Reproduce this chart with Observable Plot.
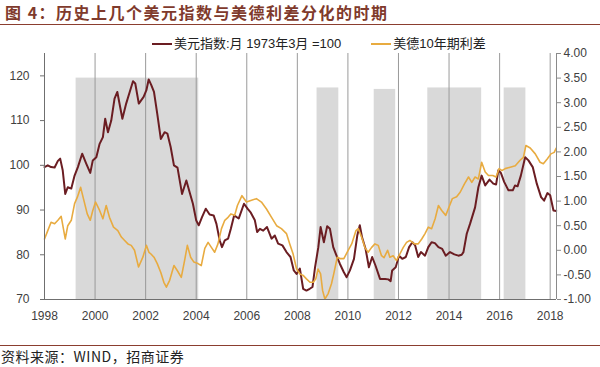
<!DOCTYPE html>
<html><head><meta charset="utf-8">
<script src="https://cdn.jsdelivr.net/npm/d3@7"></script>
<script src="https://cdn.jsdelivr.net/npm/@observablehq/plot@0.6"></script>
<style>
html,body{margin:0;padding:0;background:#fff}
body{width:600px;height:367px;position:relative;overflow:hidden;font-family:"Liberation Sans","Noto Sans CJK SC",sans-serif}
#title{position:absolute;left:0;top:0;width:600px;height:25px;border-bottom:1.5px solid #8b3e2f;box-sizing:border-box;font-family:"Noto Sans CJK SC",sans-serif;font-weight:700;font-size:16px;line-height:24px;color:#7f3a2c;padding-left:5px;letter-spacing:1.5px;white-space:nowrap}
#legend{position:absolute;top:36px;left:152px;font-size:13px;color:#222;white-space:nowrap;line-height:16px;font-family:"Liberation Sans","Noto Sans CJK SC",sans-serif}
#legend .sw{display:inline-block;width:20px;height:2px;vertical-align:middle;margin-right:2px;position:relative;top:-1px}
#legend .item{display:inline-block}
#chart{position:absolute;left:0;top:30px}
#footer{position:absolute;left:0;top:345px;width:600px;border-top:1px solid #8b3e2f;font-family:"Noto Sans CJK SC",sans-serif;font-size:14px;color:#222;padding-top:2px;padding-left:1px;line-height:17px;letter-spacing:0.5px;white-space:nowrap}
</style></head>
<body>
<div id="title">图 4：历史上几个美元指数与美德利差分化的时期</div>
<div id="legend"><span class="item"><span class="sw" style="background:#6b1d22"></span>美元指数:月 1973年3月 =100</span><span class="item" style="margin-left:30px"><span class="sw" style="background:#e8ab40"></span>美德10年期利差</span></div>
<div id="chart"></div>
<div id="footer">资料来源：WIND，招商证券</div>
<script>
// 美元指数 (left axis)
const usdYear = [1998.00,1998.13,1998.26,1998.40,1998.53,1998.62,1998.72,1998.82,1998.92,1999.06,1999.19,1999.32,1999.49,1999.65,1999.81,1999.91,2000.05,2000.18,2000.31,2000.40,2000.51,2000.64,2000.77,2000.88,2001.08,2001.23,2001.37,2001.50,2001.59,2001.73,2001.92,2002.03,2002.12,2002.22,2002.33,2002.46,2002.60,2002.75,2002.86,2002.99,2003.12,2003.26,2003.44,2003.61,2003.74,2003.87,2004.00,2004.10,2004.23,2004.38,2004.53,2004.69,2004.80,2004.93,2005.02,2005.13,2005.26,2005.37,2005.50,2005.68,2005.89,2006.03,2006.16,2006.32,2006.41,2006.52,2006.65,2006.80,2006.98,2007.11,2007.24,2007.41,2007.57,2007.73,2007.86,2007.97,2008.10,2008.23,2008.36,2008.49,2008.60,2008.70,2008.83,2008.92,2009.05,2009.18,2009.29,2009.42,2009.55,2009.68,2009.84,2009.95,2010.08,2010.24,2010.37,2010.47,2010.56,2010.70,2010.83,2010.96,2011.09,2011.27,2011.47,2011.60,2011.69,2011.75,2011.89,2012.02,2012.15,2012.29,2012.42,2012.55,2012.66,2012.78,2012.89,2013.05,2013.18,2013.31,2013.44,2013.58,2013.73,2013.87,2014.04,2014.21,2014.37,2014.50,2014.57,2014.70,2014.83,2015.03,2015.16,2015.29,2015.43,2015.60,2015.75,2015.86,2015.95,2016.05,2016.18,2016.35,2016.52,2016.61,2016.71,2016.84,2017.01,2017.14,2017.31,2017.47,2017.64,2017.76,2017.89,2018.00,2018.13,2018.24];
const usdValue = [99.6,100.0,99.6,99.5,101.0,101.5,98.9,93.6,95.1,94.8,97.7,99.6,102.6,100.4,98.3,101.1,101.8,104.8,106.3,110.4,107.4,110.0,114.9,116.4,110.4,113.8,116.4,118.8,118.3,113.8,115.3,116.8,119.2,118.0,116.4,111.5,105.9,107.4,107.1,104.1,100.0,99.5,93.6,96.6,94.0,91.4,87.7,86.6,88.4,90.3,89.0,88.8,86.9,83.2,81.7,83.2,83.6,85.8,88.8,88.1,91.4,90.3,89.4,87.7,85.1,85.8,85.4,86.2,83.6,84.3,82.5,82.1,80.6,79.5,76.5,75.7,76.9,72.4,72.0,72.4,72.8,77.2,81.7,86.2,82.8,86.4,85.8,81.7,79.8,78.0,76.1,75.0,76.5,79.1,84.3,86.6,83.9,81.3,77.2,79.5,77.6,74.6,74.6,74.5,74.1,76.5,77.2,79.8,79.1,79.5,81.7,82.8,82.1,79.5,80.6,79.8,81.7,82.8,82.6,81.7,81.3,79.8,80.6,80.1,79.8,80.0,80.6,84.7,86.9,90.6,95.1,97.7,95.5,96.8,95.9,95.7,98.9,98.3,96.3,94.4,94.4,95.5,95.3,97.7,101.8,101.1,99.6,95.9,92.9,92.1,93.8,93.3,89.9,89.8];

// 美德10年期利差 (right axis, %)
const spreadYear = [1998.00,1998.13,1998.26,1998.40,1998.53,1998.66,1998.82,1998.92,1999.06,1999.19,1999.30,1999.43,1999.56,1999.69,1999.81,1999.91,2000.02,2000.18,2000.31,2000.44,2000.57,2000.73,2000.90,2001.04,2001.17,2001.30,2001.43,2001.56,2001.72,2001.89,2002.03,2002.13,2002.20,2002.33,2002.46,2002.60,2002.72,2002.82,2002.95,2003.12,2003.25,2003.41,2003.54,2003.65,2003.78,2003.91,2004.07,2004.20,2004.34,2004.47,2004.60,2004.73,2004.86,2005.00,2005.13,2005.26,2005.37,2005.52,2005.63,2005.81,2005.99,2006.16,2006.38,2006.58,2006.78,2006.98,2007.18,2007.37,2007.57,2007.70,2007.83,2007.97,2008.10,2008.23,2008.36,2008.50,2008.63,2008.73,2008.82,2008.92,2009.00,2009.09,2009.22,2009.35,2009.44,2009.58,2009.71,2009.84,2010.01,2010.15,2010.32,2010.41,2010.54,2010.67,2010.80,2010.94,2011.07,2011.20,2011.33,2011.43,2011.57,2011.66,2011.79,2011.92,2012.06,2012.19,2012.32,2012.45,2012.63,2012.78,2012.92,2013.05,2013.18,2013.31,2013.45,2013.58,2013.71,2013.87,2014.00,2014.13,2014.30,2014.44,2014.61,2014.77,2014.90,2015.03,2015.16,2015.29,2015.43,2015.56,2015.73,2015.86,2015.98,2016.09,2016.22,2016.42,2016.62,2016.81,2016.94,2017.04,2017.21,2017.41,2017.60,2017.73,2017.89,2018.03,2018.16,2018.24];
const spreadValue = [0.23,0.40,0.57,0.54,0.61,0.69,0.23,0.50,0.61,0.95,1.08,1.28,1.01,0.74,0.61,0.81,0.98,0.81,0.64,0.91,0.67,0.47,0.40,0.27,0.20,0.13,0.10,0.00,-0.34,-0.14,0.10,-0.04,-0.07,-0.14,-0.27,-0.45,-0.65,-0.75,-0.61,-0.31,-0.41,-0.55,-0.21,0.10,-0.14,-0.24,-0.27,-0.31,0.04,0.16,0.06,-0.04,0.13,0.44,0.61,0.67,0.74,0.71,0.91,1.11,0.98,1.01,1.05,0.98,0.84,0.67,0.50,0.44,0.34,0.13,-0.07,-0.38,-0.48,-0.51,-0.58,-0.65,-0.65,-0.58,-0.38,-0.48,-0.82,-0.99,-0.88,-0.68,-0.48,-0.14,-0.17,-0.17,0.00,0.13,0.40,0.44,0.27,0.06,-0.04,0.06,0.13,0.10,-0.11,-0.15,0.00,-0.14,-0.11,-0.21,-0.07,0.06,0.16,0.20,0.13,0.13,0.23,0.34,0.47,0.44,0.64,0.91,0.81,0.71,0.88,1.05,1.09,1.18,1.35,1.49,1.38,1.49,1.45,1.79,1.59,1.52,1.52,1.49,1.66,1.62,1.66,1.69,1.72,1.83,1.89,2.13,2.08,1.96,1.79,1.76,1.86,1.96,1.99,2.08];

// shaded periods of divergence (top given on right axis)
const shadeStart = [1999.25, 2008.78, 2011.04, 2013.16, 2016.18];
const shadeEnd   = [2004.10, 2009.64, 2011.89, 2015.29, 2017.04];
const shadeTop   = [3.50, 3.30, 3.27, 3.30, 3.30];

const yearTicks = [1998,2000,2002,2004,2006,2008,2010,2012,2014,2016,2018];
const leftTicks = [70,80,90,100,110,120];
const rightTicks = [-1,-0.5,0,0.5,1,1.5,2,2.5,3,3.5,4];

const toLeft = r => 70 + (r + 1) * 11;
const usd = usdYear.map((y,i)=>({year:y, value:usdValue[i]}));
const spread = spreadYear.map((y,i)=>({year:y, value:spreadValue[i]}));
const shades = shadeStart.map((s,i)=>({x1:s, x2:shadeEnd[i], top:toLeft(shadeTop[i])}));

const chart = Plot.plot({
  width: 600, height: 305,
  marginLeft: 44, marginRight: 44, marginTop: 23, marginBottom: 36,
  x: {domain: [1998, 2018.25]},
  y: {domain: [70, 125]},
  style: {fontFamily: "'Liberation Sans', Arial, sans-serif", fontSize: "12px", color: "#404040", background: "transparent"},
  marks: [
    Plot.rect(shades, {x1:"x1", x2:"x2", y1:70, y2:"top", fill:"#d9d9d9"}),
    Plot.ruleX(yearTicks.slice(1), {stroke:"#9a9a9a", strokeWidth:1}),
    Plot.line(usd, {x:"year", y:"value", stroke:"#6b1d22", strokeWidth:2}),
    Plot.line(spread, {x:"year", y:d=>toLeft(d.value), stroke:"#e8ab40", strokeWidth:1.6}),
    Plot.ruleX([1998], {stroke:"#6f6f6f"}),
    Plot.ruleX([2018.25], {stroke:"#8a8a8a"}),
    Plot.ruleY([70], {stroke:"#6f6f6f"}),
    Plot.axisY(leftTicks, {anchor:"left", tickSize:4, tickPadding:11, stroke:"#6f6f6f", label:null}),
    Plot.axisY(rightTicks.map(toLeft), {anchor:"right", tickSize:4, tickPadding:3, stroke:"#8a8a8a", label:null,
      tickFormat: d => ((d - 70) / 11 - 1).toFixed(2)}),
    Plot.axisX(yearTicks, {tickSize:0, tickPadding:12, label:null, tickFormat: d => String(d)})
  ]
});
document.getElementById("chart").appendChild(chart);
</script>
</body></html>
